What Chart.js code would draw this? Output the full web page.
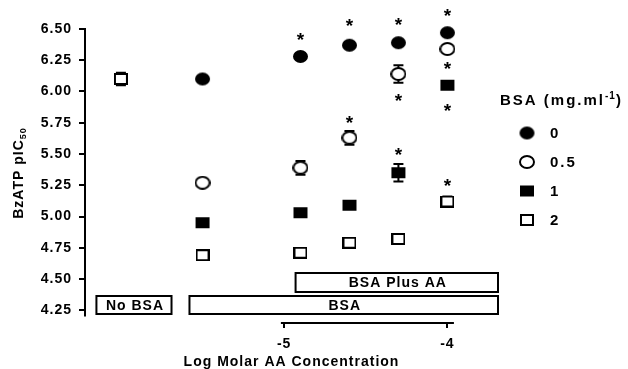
<!DOCTYPE html>
<html>
<head>
<meta charset="utf-8">
<script src="https://cdn.jsdelivr.net/npm/chart.js@4.4.0/dist/chart.umd.min.js"></script>
<style>
  body { margin: 0; background: #fff; }
  canvas { display: block; background: #fff; }
</style>
</head>
<body>
<canvas id="bzatp" width="628" height="369"></canvas>
<script>
// log molar AA concentration for the BSA groups
const concX = [-5.5, -4.9, -4.6, -4.3, -4.0];

// BzATP pIC50 per BSA concentration (mg/ml)
const bsaLevels = ['0', '0.5', '1', '2'];
const pic50Bsa0 = [6.10, 6.28, 6.37, 6.39, 6.47];
const pic50Bsa05 = [5.27, 5.39, 5.63, 6.14, 6.34];
const pic50Bsa1 = [4.95, 5.03, 5.09, 5.35, 6.05];
const pic50Bsa2 = [4.69, 4.71, 4.79, 4.82, 5.12];

const errBsa0 = [0, 0, 0, 0, 0];
const errBsa05 = [0, 0.055, 0.055, 0.07, 0];
const errBsa1 = [0, 0, 0, 0.07, 0];
const errBsa2 = [0, 0, 0, 0, 0.04];

// control without BSA
const noBsaX = [-6.0];
const noBsaY = [6.10];
const noBsaErr = [0.05];

// significance asterisks
const starX = [-4.9, -4.6, -4.3, -4.0, -4.0, -4.3, -4.0, -4.6, -4.3, -4.0];
const starY = [6.44, 6.55, 6.56, 6.63, 6.21, 5.95, 5.87, 5.78, 5.52, 5.27];

// condition bars under the data
const boxLabels = ['No BSA', 'BSA', 'BSA Plus AA'];
const boxX0 = [-6.15, -5.58, -4.93];
const boxX1 = [-5.69, -3.69, -3.69];
const boxY0 = [4.22, 4.22, 4.396];
const boxY1 = [4.364, 4.364, 4.548];

const yTicks = [4.25, 4.50, 4.75, 5.00, 5.25, 5.50, 5.75, 6.00, 6.25, 6.50];
const xTicks = [-5, -4];

const FONT = '"Liberation Sans", Arial, sans-serif';

function marker(shape, filled, w, h) {
    const c = document.createElement('canvas');
    c.width = w; c.height = h;
    const g = c.getContext('2d');
    g.fillStyle = filled ? '#000' : '#fff';
    g.strokeStyle = '#000';
    g.lineWidth = 2;
    g.beginPath();
    if (shape === 'circle') {
        g.ellipse(w / 2, h / 2, w / 2 - 1, h / 2 - 1, 0, 0, Math.PI * 2);
    } else {
        g.rect(1, 1, w - 2, h - 2);
    }
    g.fill();
    if (!filled) g.stroke();
    return c;
}

const markers = [
    marker('circle', true, 17, 15),
    marker('circle', false, 16, 14),
    marker('rect', true, 16, 13),
    marker('rect', false, 14, 12)
];

function pts(xs, ys) {
    return xs.map((x, i) => ({ x: x, y: ys[i] }));
}

const series = [pic50Bsa0, pic50Bsa05, pic50Bsa1, pic50Bsa2];
const errs = [errBsa0, errBsa05, errBsa1, errBsa2];

const datasets = series.map((ys, i) => ({
    label: bsaLevels[i],
    data: pts(concX, ys),
    errors: errs[i],
    pointStyle: markers[i],
    pointRadius: 8,
    clip: false
}));
datasets.push({
    label: 'No BSA',
    data: pts(noBsaX, noBsaY),
    errors: noBsaErr,
    pointStyle: markers[3],
    pointRadius: 8,
    clip: false
});

function spacedText(ctx, txt, x, y, spacing) {
    ctx.letterSpacing = spacing + 'px';
    ctx.fillText(txt, x, y);
    return ctx.measureText(txt).width;
}

const figPlugin = {
    id: 'fig',
    beforeDraw(chart) {
        chart.ctx.letterSpacing = '1px';
    },
    beforeDatasetsDraw(chart) {
        const ctx = chart.ctx;
        const xs = chart.scales.x, ys = chart.scales.y;
        const area = chart.chartArea;
        ctx.save();
        ctx.strokeStyle = '#000';
        ctx.lineWidth = 2;

        // y axis line
        ctx.beginPath();
        ctx.moveTo(area.left, ys.getPixelForValue(6.5) - 1);
        ctx.lineTo(area.left, ys.getPixelForValue(4.2));
        ctx.stroke();

        // short x axis segment
        ctx.beginPath();
        ctx.moveTo(xs.getPixelForValue(-5.02), area.bottom);
        ctx.lineTo(xs.getPixelForValue(-3.96), area.bottom);
        ctx.stroke();

        // condition boxes
        ctx.font = 'bold 14px ' + FONT;
        ctx.textAlign = 'center';
        ctx.textBaseline = 'middle';
        boxLabels.forEach((lab, i) => {
            const l = xs.getPixelForValue(boxX0[i]);
            const r = xs.getPixelForValue(boxX1[i]);
            const t = ys.getPixelForValue(boxY1[i]);
            const b = ys.getPixelForValue(boxY0[i]);
            ctx.fillStyle = '#fff';
            ctx.fillRect(l, t, r - l, b - t);
            ctx.strokeRect(l, t, r - l, b - t);
            ctx.fillStyle = '#000';
            spacedText(ctx, lab, (l + r) / 2 + 1, (t + b) / 2 + 1, 1);
        });

        // error bars
        chart.data.datasets.forEach(ds => {
            ds.data.forEach((p, j) => {
                const e = ds.errors[j];
                if (!e) return;
                const px = xs.getPixelForValue(p.x);
                const y1 = ys.getPixelForValue(p.y + e);
                const y2 = ys.getPixelForValue(p.y - e);
                ctx.beginPath();
                ctx.moveTo(px, y1); ctx.lineTo(px, y2);
                ctx.moveTo(px - 5, y1); ctx.lineTo(px + 5, y1);
                ctx.moveTo(px - 5, y2); ctx.lineTo(px + 5, y2);
                ctx.stroke();
            });
        });
        ctx.restore();
    },
    afterDatasetsDraw(chart) {
        const ctx = chart.ctx;
        const xs = chart.scales.x, ys = chart.scales.y;
        ctx.save();
        ctx.fillStyle = '#000';

        // asterisks
        ctx.font = 'bold 19px ' + FONT;
        ctx.textAlign = 'center';
        ctx.textBaseline = 'alphabetic';
        ctx.letterSpacing = '0px';
        const m = ctx.measureText('*');
        const off = (m.actualBoundingBoxAscent - m.actualBoundingBoxDescent) / 2;
        starX.forEach((x, i) => {
            ctx.fillText('*', xs.getPixelForValue(x), ys.getPixelForValue(starY[i]) + off);
        });

        // y title with subscript
        ctx.save();
        ctx.translate(19, 173);
        ctx.rotate(-Math.PI / 2);
        ctx.textAlign = 'left';
        ctx.textBaseline = 'middle';
        ctx.font = 'bold 14px ' + FONT;
        ctx.letterSpacing = '1px';
        const mainW = ctx.measureText('BzATP pIC').width;
        ctx.font = 'bold 9px ' + FONT;
        const subW = ctx.measureText('50').width;
        const x0 = -(mainW + subW) / 2;
        ctx.font = 'bold 14px ' + FONT;
        ctx.fillText('BzATP pIC', x0, 0);
        ctx.font = 'bold 9px ' + FONT;
        ctx.fillText('50', x0 + mainW, 5);
        ctx.restore();

        // legend
        ctx.textAlign = 'left';
        ctx.textBaseline = 'middle';
        ctx.font = 'bold 15px ' + FONT;
        let lx = 500;
        lx += spacedText(ctx, 'BSA (mg.ml', lx, 101, 2);
        ctx.font = 'bold 10px ' + FONT;
        lx += spacedText(ctx, '-1', lx, 96, 1);
        ctx.font = 'bold 15px ' + FONT;
        spacedText(ctx, ')', lx, 101, 2);

        const rowY = [133, 162, 191, 220];
        bsaLevels.forEach((lab, i) => {
            const mk = markers[i];
            ctx.drawImage(mk, 527 - mk.width / 2, rowY[i] - mk.height / 2);
            ctx.font = 'bold 15px ' + FONT;
            spacedText(ctx, lab, 550, rowY[i] + 1, 2);
        });
        ctx.restore();
    }
};

new Chart(document.getElementById('bzatp'), {
    type: 'scatter',
    data: { datasets: datasets },
    plugins: [figPlugin],
    options: {
        responsive: false,
        animation: false,
        devicePixelRatio: 1,
        layout: { padding: { top: 29, right: 130, left: 0, bottom: 0 } },
        plugins: {
            legend: { display: false },
            tooltip: { enabled: false }
        },
        scales: {
            x: {
                type: 'linear',
                min: -6.22,
                max: -3.69,
                border: { display: false },
                grid: {
                    drawOnChartArea: false,
                    drawTicks: true,
                    tickLength: 5,
                    color: '#000',
                    lineWidth: 2
                },
                afterBuildTicks: function (scale) {
                    scale.ticks = xTicks.map(v => ({ value: v }));
                },
                afterFit: function (scale) { scale.height = 46; },
                ticks: {
                    color: '#000',
                    padding: 8,
                    font: { family: FONT, size: 14, weight: 'bold' },
                    callback: v => String(v)
                },
                title: {
                    display: true,
                    text: 'Log Molar AA Concentration',
                    color: '#000',
                    padding: { top: 0, bottom: -2 },
                    font: { family: FONT, size: 14, weight: 'bold' }
                }
            },
            y: {
                min: 4.148,
                max: 6.5,
                border: { display: false },
                grid: {
                    drawOnChartArea: false,
                    drawTicks: true,
                    tickLength: 6,
                    color: '#000',
                    lineWidth: 2
                },
                afterBuildTicks: function (scale) {
                    scale.ticks = yTicks.map(v => ({ value: v }));
                },
                afterFit: function (scale) { scale.width = 85; },
                ticks: {
                    color: '#000',
                    padding: 7,
                    font: { family: FONT, size: 14, weight: 'bold' },
                    callback: v => v.toFixed(2)
                }
            }
        }
    }
});
</script>
</body>
</html>
